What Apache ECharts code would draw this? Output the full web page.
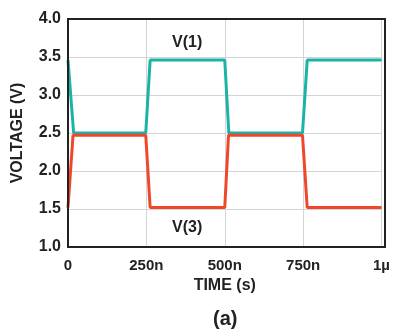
<!DOCTYPE html>
<html>
<head>
<meta charset="utf-8">
<script src="https://cdn.jsdelivr.net/npm/echarts@6/dist/echarts.min.js"></script>
<style>
  html, body { margin: 0; padding: 0; background: #fff; }
  #main { width: 393px; height: 329px; }
</style>
</head>
<body>
<div id="main"></div>
<script>
// time in ns, voltage in V
var v1Time = [0, 18, 248, 262, 500, 513, 748, 763, 1000];
var v1Vals = [3.46, 2.50, 2.50, 3.46, 3.46, 2.50, 2.50, 3.46, 3.46];
var v3Time = [0, 16, 248, 262, 500, 512, 748, 763, 1000];
var v3Vals = [1.52, 2.47, 2.47, 1.52, 1.52, 2.47, 2.47, 1.52, 1.52];
var xTickLabels = {0: '0', 250: '250n', 500: '500n', 750: '750n', 1000: '1\u00b5'};

function pairs(xs, ys) {
    var out = [];
    for (var i = 0; i < xs.length; i++) out.push([xs[i], ys[i]]);
    return out;
}

var chart = echarts.init(document.getElementById('main'));
var font = 'Liberation Sans, Arial, sans-serif';

option = {
    animation: false,
    grid: { left: 68, right: 8, top: 19, bottom: 82, containLabel: false },
    xAxis: {
        type: 'value',
        min: 0, max: 1000, interval: 250,
        axisLine: { show: true, onZero: false, lineStyle: { color: '#222', width: 2 } },
        axisTick: { show: false },
        splitLine: { show: true, lineStyle: { color: '#d4d4d4', width: 1 } },
        axisLabel: {
            color: '#222', fontFamily: font, fontWeight: 'bold', fontSize: 15, margin: 11,
            formatter: function (v) { return xTickLabels[v]; }
        },
        name: 'TIME (s)',
        nameLocation: 'middle',
        nameGap: 30,
        nameTextStyle: { color: '#222', fontFamily: font, fontWeight: 'bold', fontSize: 16 }
    },
    yAxis: {
        type: 'value',
        min: 1, max: 4, interval: 0.5,
        axisLine: { show: true, lineStyle: { color: '#222', width: 2 } },
        axisTick: { show: false },
        splitLine: { show: true, lineStyle: { color: '#d4d4d4', width: 1 } },
        axisLabel: {
            color: '#222', fontFamily: font, fontWeight: 'bold', fontSize: 16, margin: 7,
            formatter: function (v) { return v.toFixed(1); }
        },
        name: 'VOLTAGE (V)',
        nameLocation: 'middle',
        nameGap: 42,
        nameTextStyle: { color: '#222', fontFamily: font, fontWeight: 'bold', fontSize: 16 }
    },
    graphic: [
        { type: 'rect', shape: { x: 68, y: 19, width: 317, height: 228 },
          style: { fill: 'none', stroke: '#222', lineWidth: 2 }, z: 10 },
        { type: 'text', left: 172, top: 35,
          style: { text: 'V(1)', fill: '#222', font: 'bold 16px ' + font } },
        { type: 'text', left: 172, top: 220,
          style: { text: 'V(3)', fill: '#222', font: 'bold 16px ' + font } },
        { type: 'text', left: 213, top: 309,
          style: { text: '(a)', fill: '#222', font: 'bold 20px ' + font } }
    ],
    series: [
        {
            name: 'V(1)', type: 'line', showSymbol: false,
            data: pairs(v1Time, v1Vals),
            lineStyle: { color: '#19b4a6', width: 3 }
        },
        {
            name: 'V(3)', type: 'line', showSymbol: false,
            data: pairs(v3Time, v3Vals),
            lineStyle: { color: '#f0472b', width: 3 }
        }
    ]
};
chart.setOption(option);
</script>
</body>
</html>
